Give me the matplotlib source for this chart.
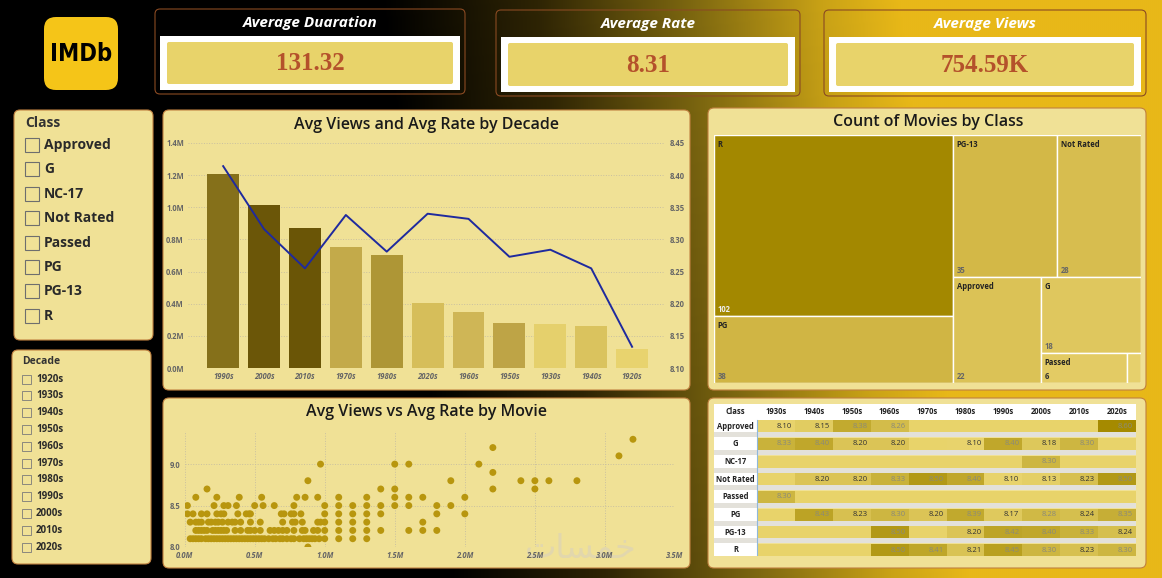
import matplotlib
matplotlib.use("Agg")
import matplotlib.pyplot as plt
import numpy as np
from matplotlib.colors import LinearSegmentedColormap
from matplotlib.patches import FancyBboxPatch, Rectangle
from matplotlib.ticker import FuncFormatter, MultipleLocator

W, H = 1162, 578

# ---- data ----
KPI_TITLES = ["Average Duaration", "Average Rate", "Average Views"]
KPI_VALUES = ["131.32", "8.31", "754.59K"]

SLICER_CLASSES = ["Approved", "G", "NC-17", "Not Rated", "Passed", "PG", "PG-13", "R"]
SLICER_DECADES = ["1920s", "1930s", "1940s", "1950s", "1960s", "1970s",
                  "1980s", "1990s", "2000s", "2010s", "2020s"]

BAR_DECADES = ["1990s", "2000s", "2010s", "1970s", "1980s", "2020s",
               "1960s", "1950s", "1930s", "1940s", "1920s"]
BAR_VIEWS = [1206000, 1013000, 873000, 751000, 701000, 403000,
             349000, 277000, 271000, 263000, 118000]
BAR_RATES = [8.414, 8.316, 8.255, 8.338, 8.281, 8.340,
             8.332, 8.273, 8.284, 8.255, 8.133]

TREE_CLASSES = ["R", "PG", "PG-13", "Not Rated", "Approved", "G", "Passed", "NC-17"]
TREE_COUNTS = [102, 38, 35, 28, 22, 18, 6, 1]

MATRIX_DECADES = ["1930s", "1940s", "1950s", "1960s", "1970s",
                  "1980s", "1990s", "2000s", "2010s", "2020s"]
RATE_APPROVED = [8.10, 8.15, 8.38, 8.26, None, None, None, None, None, 8.60]
RATE_G = [8.33, 8.40, 8.20, 8.20, None, 8.10, 8.40, 8.18, 8.30, None]
RATE_NC17 = [None, None, None, None, None, None, None, 8.30, None, None]
RATE_NOT_RATED = [None, 8.20, 8.20, 8.33, 8.50, 8.40, 8.10, 8.13, 8.23, 8.50]
RATE_PASSED = [8.30, None, None, None, None, None, None, None, None, None]
RATE_PG = [None, 8.43, 8.23, 8.30, 8.20, 8.39, 8.17, 8.28, 8.24, 8.35]
RATE_PG13 = [None, None, None, 8.50, None, 8.20, 8.42, 8.40, 8.33, 8.24]
RATE_R = [None, None, None, 8.50, 8.41, 8.21, 8.45, 8.30, 8.23, 8.30]

# scatter: views (millions) of movies at each rating
VIEWS_AT_80 = [0.88]
VIEWS_AT_81 = [0.04, 0.06, 0.08, 0.10, 0.12, 0.15, 0.17, 0.19, 0.21, 0.23, 0.25, 0.27,
               0.29, 0.31, 0.33, 0.35, 0.37, 0.39, 0.41, 0.43, 0.45, 0.47, 0.49, 0.51,
               0.53, 0.55, 0.57, 0.60, 0.63, 0.65, 0.68, 0.70, 0.73, 0.76, 0.78, 0.82,
               0.85, 0.87, 0.89, 0.91, 0.93, 0.96, 1.00, 1.10, 1.20, 1.30]
VIEWS_AT_82 = [0.08, 0.10, 0.12, 0.14, 0.16, 0.20, 0.22, 0.24, 0.26, 0.28, 0.30, 0.36,
               0.40, 0.45, 0.47, 0.50, 0.54, 0.61, 0.64, 0.67, 0.70, 0.73, 0.78, 0.84,
               0.86, 0.92, 0.95, 1.00, 1.10, 1.20, 1.30, 1.40, 1.60, 1.70, 1.80]
VIEWS_AT_83 = [0.04, 0.08, 0.10, 0.12, 0.17, 0.19, 0.22, 0.24, 0.27, 0.31, 0.34, 0.36,
               0.40, 0.47, 0.54, 0.70, 0.77, 0.79, 0.84, 0.95, 0.97, 1.00, 1.10, 1.20,
               1.30, 1.70]
VIEWS_AT_84 = [0.02, 0.06, 0.12, 0.16, 0.23, 0.26, 0.28, 0.38, 0.44, 0.46, 0.47, 0.69,
               0.71, 0.76, 0.78, 0.83, 1.00, 1.10, 1.20, 1.30, 1.40, 1.80, 2.00]
VIEWS_AT_85 = [0.02, 0.21, 0.28, 0.31, 0.37, 0.50, 0.56, 0.64, 0.78, 1.00, 1.10, 1.20,
               1.30, 1.40, 1.50, 1.60, 1.80, 1.90]
VIEWS_AT_86 = [0.08, 0.23, 0.39, 0.55, 0.80, 0.86, 0.95, 1.10, 1.30, 1.50, 1.60, 1.70, 2.00]
VIEWS_AT_87 = [0.16, 1.40, 1.50, 2.20, 2.50]
VIEWS_AT_88 = [0.88, 1.90, 2.40, 2.50, 2.60, 2.80]
VIEWS_AT_89 = [2.20]
VIEWS_AT_90 = [0.97, 1.50, 1.60, 2.10]
VIEWS_AT_91 = [3.10]
VIEWS_AT_92 = [2.20]
VIEWS_AT_93 = [3.20]

# ---- styling ----
PANEL = "#f0e196"
PANEL_EDGE = "#c08040"
SANS = ["Open Sans", "DejaVu Sans"]
BAR_COLORS = ["#85701a", "#6b5608", "#6a5506", "#c3aa4a", "#ae9636", "#d6be5a",
              "#cfb656", "#bea446", "#e5d06c", "#dac35e", "#e8d36e"]
TREE_COLORS = ["#a38800", "#d0b544", "#d3b847", "#d7bd4f", "#dbc256", "#dfc75e",
               "#e3cb64", "#e6d06c"]
TREE_LAYOUT = ("h", [("v", ["R", "PG"]),
                     ("v", [("h", ["PG-13", "Not Rated"]),
                            ("h", ["Approved", ("v", ["G", ("h", ["Passed", "NC-17"])])])])])

plt.rcParams["font.family"] = SANS

fig = plt.figure(figsize=(W / 100, H / 100), dpi=100)


def px_axes(x0, y0, x1, y1, z=2):
  ax = fig.add_axes([x0 / W, 1 - y1 / H, (x1 - x0) / W, (y1 - y0) / H])
  ax.set_zorder(z)
  ax.patch.set_visible(False)
  return ax


# background: black on the left fading into gold on the right
bg = px_axes(0, 0, W, H, z=0)
yy, xx = np.mgrid[0:H:2, 0:W:2]
t = np.clip((xx - 380 - 0.12 * yy) / 520, 0, 1)
bg_cmap = LinearSegmentedColormap.from_list(
    "bg", [(0, "#000000"), (0.3, "#2e2404"), (0.6, "#7e6810"), (0.85, "#c9a216"), (1, "#e8b818")])
bg.imshow(t, cmap=bg_cmap, extent=(0, W, H, 0), aspect="auto", interpolation="bilinear")
bg.set_xlim(0, W)
bg.set_ylim(H, 0)
bg.axis("off")


def panel(x0, y0, x1, y1, fc=PANEL, ec=PANEL_EDGE, lw=0.8, r=6, z=1):
  bg.add_patch(FancyBboxPatch((x0, y0), x1 - x0, y1 - y0,
                              boxstyle=f"round,pad=0,rounding_size={r}",
                              fc=fc, ec=ec, lw=lw, zorder=z))


# IMDb logo
panel(44, 17, 118, 90, fc="#f5c518", ec="none", r=12)
bg.text(81, 54, "IMDb", ha="center", va="center", fontsize=17, fontweight="bold",
        fontstretch="condensed", family=["DejaVu Sans"], color="#000000", zorder=3)

# KPI cards
kpi_boxes = [(155, 9, 465, 94), (496, 10, 800, 96), (824, 10, 1146, 96)]
for (x0, y0, x1, y1), title, value in zip(kpi_boxes, KPI_TITLES, KPI_VALUES):
  panel(x0, y0, x1, y1, fc="none", ec="#8a4a22", lw=0.8, r=5)
  cx = (x0 + x1) / 2
  bg.text(cx, y0 + 14, title, ha="center", va="center", fontsize=11,
          fontweight="bold", fontstyle="italic", color="white", zorder=3)
  bg.add_patch(Rectangle((x0 + 5, y0 + 27), x1 - x0 - 10, y1 - y0 - 31,
                         fc="white", ec="none", zorder=2))
  panel(x0 + 12, y0 + 33, x1 - 12, y1 - 10, fc="#e8d36a", ec="none", r=2, z=3)
  bg.text(cx, (y0 + 33 + y1 - 10) / 2 + 1, value, ha="center", va="center",
          fontsize=18, fontweight="bold", family=["Liberation Serif", "DejaVu Serif"],
          color="#b4512b", zorder=4)

# Class slicer
panel(14, 110, 153, 340)
bg.text(25, 123, "Class", ha="left", va="center", fontsize=10, fontweight="bold",
        color="#333333", zorder=3)
for i, name in enumerate(SLICER_CLASSES):
  yc = 145 + i * 24.4
  bg.add_patch(Rectangle((25, yc - 7), 14, 14, fc="none", ec="#6e6e6e", lw=0.8, zorder=3))
  bg.text(44, yc, name, ha="left", va="center", fontsize=10, fontweight="bold",
          color="#2a2a2a", zorder=3)

# Decade slicer
panel(12, 350, 151, 564)
bg.text(22, 362, "Decade", ha="left", va="center", fontsize=7.5, fontweight="bold",
        color="#333333", zorder=3)
for i, name in enumerate(SLICER_DECADES):
  yc = 379 + i * 16.8
  bg.add_patch(Rectangle((22, yc - 4.5), 9, 9, fc="none", ec="#7a7a7a", lw=0.6, zorder=3))
  bg.text(36, yc, name, ha="left", va="center", fontsize=7, fontweight="bold",
          color="#2a2a2a", zorder=3)

# chart panels
panel(163, 110, 690, 390)
panel(163, 398, 690, 568)
panel(708, 108, 1146, 390)
panel(708, 398, 1146, 568)
TITLE_KW = dict(ha="center", va="center", fontsize=11.5, fontweight="semibold",
                color="#1a1a1a", zorder=3)
bg.text(427, 125, "Avg Views and Avg Rate by Decade", **TITLE_KW)
bg.text(427, 412, "Avg Views vs Avg Rate by Movie", **TITLE_KW)
bg.text(928, 122, "Count of Movies by Class", **TITLE_KW)

TICK_KW = dict(length=0, labelsize=5.5, colors="#666666")

# ---- bar + line chart ----
ax1 = px_axes(188, 143, 664, 368, z=2)
xs = np.arange(len(BAR_DECADES))
ax1.bar(xs, BAR_VIEWS, width=0.78, color=BAR_COLORS, zorder=2)
ax1.set_xlim(-0.86, 10.78)
ax1.set_ylim(0, 1.4e6)
ax1.yaxis.set_major_locator(MultipleLocator(0.2e6))
ax1.yaxis.set_major_formatter(FuncFormatter(lambda v, _: f"{v / 1e6:.1f}M"))
ax1.grid(axis="y", linestyle=":", color="#c9c0a0", linewidth=0.7)
ax1.set_axisbelow(True)
ax1.set_xticks(xs, BAR_DECADES)
ax1.tick_params(axis="y", pad=3, **TICK_KW)
ax1.tick_params(axis="x", pad=3, **TICK_KW)
for lbl in ax1.get_xticklabels() + ax1.get_yticklabels():
  lbl.set_fontweight("bold")
for lbl in ax1.get_xticklabels():
  lbl.set_fontstyle("italic")
for s in ax1.spines.values():
  s.set_visible(False)

ax1r = ax1.twinx()
ax1r.set_zorder(3)
ax1r.patch.set_visible(False)
ax1r.plot(xs, BAR_RATES, color="#1f2a9e", linewidth=1.4)
ax1r.set_ylim(8.10, 8.45)
ax1r.yaxis.set_major_locator(MultipleLocator(0.05))
ax1r.yaxis.set_major_formatter(FuncFormatter(lambda v, _: f"{v:.2f}"))
ax1r.tick_params(axis="y", pad=4, **TICK_KW)
for lbl in ax1r.get_yticklabels():
  lbl.set_fontweight("bold")
for s in ax1r.spines.values():
  s.set_visible(False)

# ---- scatter ----
ax2 = px_axes(184.6, 431, 675, 547, z=2)
levels = [(8.0, VIEWS_AT_80), (8.1, VIEWS_AT_81), (8.2, VIEWS_AT_82), (8.3, VIEWS_AT_83),
          (8.4, VIEWS_AT_84), (8.5, VIEWS_AT_85), (8.6, VIEWS_AT_86), (8.7, VIEWS_AT_87),
          (8.8, VIEWS_AT_88), (8.9, VIEWS_AT_89), (9.0, VIEWS_AT_90), (9.1, VIEWS_AT_91),
          (9.2, VIEWS_AT_92), (9.3, VIEWS_AT_93)]
sx, sy = [], []
for rate, views in levels:
  sx += [v * 1e6 for v in views]
  sy += [rate] * len(views)
ax2.scatter(sx, sy, s=25, color="#b8960e", edgecolors="none", zorder=3)
ax2.set_xlim(0, 3.5e6)
ax2.set_ylim(8.0, 9.4)
ax2.xaxis.set_major_locator(MultipleLocator(0.5e6))
ax2.xaxis.set_major_formatter(FuncFormatter(lambda v, _: f"{v / 1e6:.1f}M"))
ax2.set_yticks([8.0, 8.5, 9.0])
ax2.yaxis.set_major_formatter(FuncFormatter(lambda v, _: f"{v:.1f}"))
ax2.grid(True, linestyle=":", color="#c9c0a0", linewidth=0.7)
ax2.set_axisbelow(True)
ax2.tick_params(axis="both", pad=3, **TICK_KW)
for lbl in ax2.get_xticklabels():
  lbl.set_fontstyle("italic")
  lbl.set_fontweight("bold")
for lbl in ax2.get_yticklabels():
  lbl.set_fontweight("bold")
for s in ax2.spines.values():
  s.set_visible(False)
# faint watermark
bg.text(581, 549, "\ufe95\ufe8e\ufeb4\ufee4\ufea7", ha="center", va="center",
        fontsize=24, family=["DejaVu Sans"], color="#e2d7ad", zorder=1.5)

# ---- treemap ----
ax3 = px_axes(714, 135, 1141, 383, z=2)
counts = dict(zip(TREE_CLASSES, TREE_COUNTS))


def node_total(node):
  if isinstance(node, str):
    return counts[node]
  return sum(node_total(c) for c in node[1])


def layout(node, x, y, w, h, out):
  if isinstance(node, str):
    out[node] = (x, y, w, h)
    return
  direction, children = node
  total = node_total(node)
  for child in children:
    frac = node_total(child) / total
    if direction == "h":
      layout(child, x, y, w * frac, h, out)
      x += w * frac
    else:
      layout(child, x, y, w, h * frac, out)
      y += h * frac


rects = {}
layout(TREE_LAYOUT, 0, 0, 1, 1, rects)
for name, color in zip(TREE_CLASSES, TREE_COLORS):
  x, y, w, h = rects[name]
  ax3.add_patch(Rectangle((x, y), w, h, fc=color, ec="white", lw=1.0))
  if name == "NC-17":
    continue
  ax3.annotate(name, xy=(x, y), xytext=(2.5, -3.5), textcoords="offset points",
               ha="left", va="top", fontsize=5.5, fontweight="bold", color="#222222")
  ax3.annotate(str(counts[name]), xy=(x, y + h), xytext=(2.5, 1.5), textcoords="offset points",
               ha="left", va="bottom", fontsize=5.5, fontweight="bold",
               color="#eeeeee" if name == "R" else ("#333333" if name == "Passed" else "#666666"))
ax3.set_xlim(0, 1)
ax3.set_ylim(1, 0)
ax3.axis("off")

# ---- matrix table ----
ax4 = px_axes(714, 404, 1136, 556, z=2)
LABEL_W = 43.0
COL_W = 37.9
HEAD_H = 15.5
PITCH = 17.7
CELL_H = 12.0
n_cols = len(MATRIX_DECADES)
right = LABEL_W + n_cols * COL_W
matrix_rows = [RATE_APPROVED, RATE_G, RATE_NC17, RATE_NOT_RATED,
               RATE_PASSED, RATE_PG, RATE_PG13, RATE_R]
cell_cmap = LinearSegmentedColormap.from_list("cells", ["#e8d36c", "#a58a00"])
base_cell = "#e8d36a"

ax4.add_patch(Rectangle((0, 0), right, HEAD_H, fc="white", ec="none"))
ax4.text(LABEL_W / 2, HEAD_H / 2, "Class", ha="center", va="center", fontsize=5.5,
         fontweight="bold", color="#222222")
for j, dec in enumerate(MATRIX_DECADES):
  ax4.text(LABEL_W + (j + 0.5) * COL_W, HEAD_H / 2, dec, ha="center", va="center",
           fontsize=5.5, fontweight="bold", color="#222222")

for i, (cls, vals) in enumerate(zip(SLICER_CLASSES, matrix_rows)):
  y0 = HEAD_H + i * PITCH
  ax4.add_patch(Rectangle((0, y0), LABEL_W, CELL_H + 0.6, fc="white", ec="none"))
  ax4.add_patch(Rectangle((LABEL_W, y0 + 0.6), right - LABEL_W, CELL_H, fc=base_cell, ec="none"))
  if i < len(SLICER_CLASSES) - 1:
    ax4.add_patch(Rectangle((0, y0 + CELL_H + 0.6), right, PITCH - CELL_H - 0.6,
                            fc="#e3e1da", ec="none"))
  ax4.text(LABEL_W / 2, y0 + 0.6 + CELL_H / 2, cls, ha="center", va="center",
           fontsize=5.5, fontweight="bold", color="#222222")
  for j, v in enumerate(vals):
    if v is None:
      continue
    cx0 = LABEL_W + j * COL_W
    ax4.add_patch(Rectangle((cx0, y0 + 0.6), COL_W, CELL_H,
                            fc=cell_cmap((v - 8.1) / 0.5), ec="none"))
    ax4.text(cx0 + COL_W - 3, y0 + 0.6 + CELL_H / 2, f"{v:.2f}", ha="right", va="center",
             fontsize=5.5, color="#8a8a7a" if v >= 8.26 else "#333333")

ax4.plot([LABEL_W, LABEL_W], [HEAD_H, HEAD_H + 7 * PITCH + CELL_H + 0.6],
         color="#8fb8dc", lw=0.8)
ax4.set_xlim(0, right)
ax4.set_ylim(HEAD_H + 7 * PITCH + CELL_H + 0.6, 0)
ax4.axis("off")

fig.savefig("out.png", dpi=100)
